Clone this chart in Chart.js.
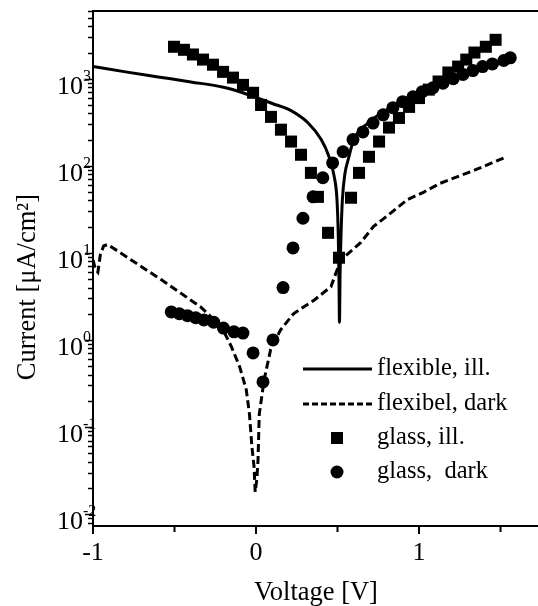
<!DOCTYPE html>
<html>
<head>
<meta charset="utf-8">
<script src="https://cdn.jsdelivr.net/npm/chart.js@4"></script>
<style>
  body { margin: 0; background: #fff; }
  canvas { display: block; }
</style>
</head>
<body>
<canvas id="myChart" width="538" height="606"></canvas>
<script>
// flexible, illuminated (solid line)
const flexIllV = [-1.0, -0.8, -0.6, -0.4, -0.2, -0.1, 0.0, 0.1, 0.215, 0.32, 0.40, 0.448, 0.48, 0.497, 0.505, 0.509, 0.512, 0.516, 0.522, 0.53, 0.545, 0.565, 0.60, 0.687, 0.83, 1.03, 1.24, 1.44, 1.58];
const flexIllI = [1380, 1200, 1050, 920, 800, 710, 610, 520, 430, 310, 200, 127, 75, 40, 15, 5, 1.6, 6, 17, 41, 80, 117, 200, 310, 475, 750, 1050, 1380, 1700];

// flexible, dark (dashed line)
const flexDarkV = [-1.0, -0.985, -0.97, -0.955, -0.935, -0.91, -0.58, -0.34, -0.21, -0.15, -0.10, -0.06, -0.04, -0.025, -0.012, -0.005, 0.005, 0.012, 0.02, 0.05, 0.09, 0.15, 0.23, 0.36, 0.46, 0.52, 0.64, 0.72, 0.83, 0.93, 1.03, 1.13, 1.34, 1.52];
const flexDarkI = [8.3, 6.5, 6.0, 9.5, 12, 12.5, 4.9, 2.4, 1.4, 0.83, 0.49, 0.27, 0.14, 0.059, 0.035, 0.018, 0.025, 0.04, 0.14, 0.35, 0.78, 1.3, 2.0, 2.9, 4.1, 8.3, 13, 20, 29, 41, 50, 63, 89, 123];

// glass, illuminated (squares)
const glassIllV = [-0.503, -0.442, -0.387, -0.325, -0.264, -0.202, -0.141, -0.08, -0.018, 0.031, 0.092, 0.153, 0.215, 0.276, 0.337, 0.38, 0.442, 0.509, 0.583, 0.632, 0.693, 0.755, 0.816, 0.877, 0.939, 1.0, 1.06, 1.12, 1.18, 1.24, 1.29, 1.34, 1.41, 1.47];
const glassIllI = [2330, 2150, 1900, 1660, 1450, 1200, 1030, 850, 690, 500, 365, 260, 190, 134, 83, 44, 17, 8.8, 43, 83, 127, 190, 275, 355, 475, 600, 750, 930, 1180, 1380, 1660, 2000, 2330, 2800];

// glass, dark (circles)
const glassDarkV = [-0.52, -0.47, -0.42, -0.37, -0.32, -0.26, -0.20, -0.135, -0.08, -0.018, 0.043, 0.104, 0.166, 0.227, 0.288, 0.35, 0.41, 0.47, 0.534, 0.595, 0.656, 0.718, 0.78, 0.84, 0.90, 0.963, 1.02, 1.086, 1.147, 1.21, 1.27, 1.33, 1.39, 1.45, 1.52, 1.56];
const glassDarkI = [2.1, 2.0, 1.9, 1.8, 1.7, 1.6, 1.37, 1.24, 1.2, 0.71, 0.33, 1.0, 4.0, 11.4, 25, 44, 73, 108, 145, 200, 245, 310, 385, 465, 545, 620, 710, 790, 890, 1000, 1120, 1240, 1380, 1480, 1620, 1740];

const xTickLabels = ["-1", "0", "1"];
const xTickValues = [-1, 0, 1];
const xMinorValues = [-0.5, 0.5, 1.5];
const yDecades = [-2, -1, 0, 1, 2, 3];
const legendLabels = ["flexible, ill.", "flexibel, dark", "glass, ill.", "glass,  dark"];

const pts = (xs, ys) => xs.map((v, i) => ({ x: v, y: ys[i] }));
const serif = "'Liberation Serif', 'DejaVu Serif', serif";

const decorations = {
  id: "decorations",
  afterDraw(chart) {
    const { ctx, chartArea: a, scales } = chart;
    const x = scales.x, y = scales.y;
    ctx.save();
    ctx.strokeStyle = "#000";
    ctx.fillStyle = "#000";

    // top frame line
    ctx.lineWidth = 2;
    ctx.beginPath();
    ctx.moveTo(a.left, a.top);
    ctx.lineTo(a.right, a.top);
    ctx.stroke();

    // y ticks
    ctx.lineWidth = 1.5;
    for (let e = -3; e <= 3; e++) {
      for (let k = 1; k <= 9; k++) {
        const v = k * Math.pow(10, e);
        if (v < y.min || v > y.max) continue;
        const py = Math.round(y.getPixelForValue(v)) + 0.5;
        const len = k === 1 ? 8 : 5;
        ctx.beginPath();
        ctx.moveTo(a.left - len, py);
        ctx.lineTo(a.left, py);
        ctx.stroke();
      }
    }
    // y tick labels 10^n
    yDecades.forEach(e => {
      const py = y.getPixelForValue(Math.pow(10, e));
      ctx.font = "26px " + serif;
      ctx.textAlign = "right";
      ctx.textBaseline = "alphabetic";
      ctx.fillText("10", 83, py + 15);
      ctx.font = "16px " + serif;
      ctx.textAlign = "left";
      ctx.fillText(String(e), 83, py + 2);
    });

    // x ticks
    ctx.lineWidth = 2;
    xTickValues.forEach(v => {
      const px = x.getPixelForValue(v);
      ctx.beginPath();
      ctx.moveTo(px, a.bottom);
      ctx.lineTo(px, a.bottom + 8);
      ctx.stroke();
    });
    xMinorValues.forEach(v => {
      const px = x.getPixelForValue(v);
      ctx.beginPath();
      ctx.moveTo(px, a.bottom);
      ctx.lineTo(px, a.bottom + 6);
      ctx.stroke();
    });
    ctx.font = "26px " + serif;
    ctx.textAlign = "center";
    xTickValues.forEach((v, i) => {
      ctx.fillText(xTickLabels[i], x.getPixelForValue(v), 560);
    });

    // axis titles
    ctx.font = "26.5px " + serif;
    ctx.fillText("Voltage [V]", 316, 600);
    ctx.save();
    ctx.translate(35, 287);
    ctx.rotate(-Math.PI / 2);
    ctx.fillText("Current [\u03bcA/cm\u00b2]", 0, 0);
    ctx.restore();

    // legend
    const lx0 = 303, lx1 = 372, tx = 377;
    const rows = [369, 404, 438, 472];
    ctx.lineWidth = 3;
    ctx.beginPath();
    ctx.moveTo(lx0, rows[0]);
    ctx.lineTo(lx1, rows[0]);
    ctx.stroke();
    ctx.setLineDash([6, 3]);
    ctx.beginPath();
    ctx.moveTo(lx0, rows[1]);
    ctx.lineTo(lx1, rows[1]);
    ctx.stroke();
    ctx.setLineDash([]);
    ctx.fillRect(337 - 6, rows[2] - 6, 12, 12);
    ctx.beginPath();
    ctx.arc(337, rows[3], 6.5, 0, Math.PI * 2);
    ctx.fill();
    ctx.font = "24.5px " + serif;
    ctx.textAlign = "left";
    ctx.textBaseline = "middle";
    legendLabels.forEach((t, i) => ctx.fillText(t, tx, rows[i]));
    ctx.restore();
  }
};

new Chart(document.getElementById("myChart"), {
  type: "scatter",
  data: {
    datasets: [
      {
        label: legendLabels[0],
        data: pts(flexIllV, flexIllI),
        showLine: true,
        borderColor: "#000",
        borderWidth: 3,
        pointRadius: 0,
        cubicInterpolationMode: "monotone",
      },
      {
        label: legendLabels[1],
        data: pts(flexDarkV, flexDarkI),
        showLine: true,
        borderColor: "#000",
        borderWidth: 3,
        borderDash: [8, 4],
        pointRadius: 0,
      },
      {
        label: legendLabels[2],
        data: pts(glassIllV, glassIllI),
        pointStyle: "rect",
        pointRadius: 8.5,
        backgroundColor: "#000",
        borderColor: "#000",
        borderWidth: 0,
      },
      {
        label: legendLabels[3],
        data: pts(glassDarkV, glassDarkI),
        pointStyle: "circle",
        pointRadius: 6.5,
        backgroundColor: "#000",
        borderColor: "#000",
        borderWidth: 0,
      },
    ],
  },
  options: {
    responsive: false,
    animation: false,
    layout: { autoPadding: false, padding: { top: 11, right: 0, bottom: 0, left: 0 } },
    plugins: {
      legend: { display: false },
      tooltip: { enabled: false },
    },
    scales: {
      x: {
        type: "linear",
        min: -1,
        max: 1.73,
        grid: { display: false },
        border: { display: true, color: "#000", width: 2 },
        ticks: { display: false },
        afterFit(s) { s.height = 80; },
      },
      y: {
        type: "logarithmic",
        min: 0.0073,
        max: 6000,
        grid: { display: false },
        border: { display: true, color: "#000", width: 2 },
        ticks: { display: false },
        afterFit(s) { s.width = 93; },
      },
    },
  },
  plugins: [decorations],
});
</script>
</body>
</html>
